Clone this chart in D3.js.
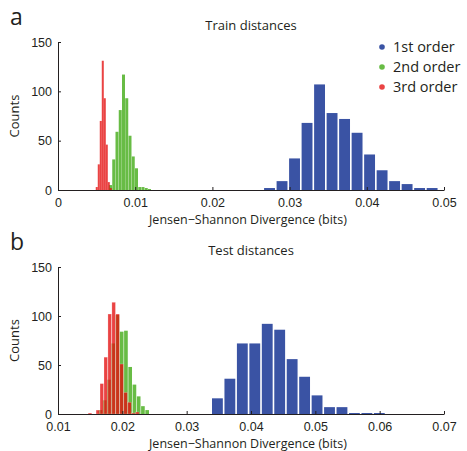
<!DOCTYPE html>
<html>
<head>
<meta charset="utf-8">
<script src="https://cdn.jsdelivr.net/npm/d3@7"></script>
<style>
  body { margin: 0; background: #fff; }
  svg { display: block; font-family: "Open Sans", "Noto Sans", sans-serif; }
  text { fill: #231f20; }
</style>
</head>
<body>
<svg id="chart" width="467" height="451"></svg>
<script>
// Histogram counts of Jensen–Shannon divergences.
// Each series: first bin centre, bin width and the per-bin counts.

// Panel a — train distances
const trainFirst = { start: 0.0274, width: 0.00162,
  counts: [2, 9, 32, 68, 107, 78, 72, 58, 36, 20, 9, 6, 2, 2] };
const trainSecond = { start: 0.0068, width: 0.000421,
  counts: [5, 31, 59, 81, 117, 93, 55, 34, 22, 3, 3, 2, 1] };
const trainThird = { start: 0.00502, width: 0.00026,
  counts: [3, 26, 70, 131, 93, 46, 8, 2] };

// Panel b — test distances
const testFirst = { start: 0.03478, width: 0.001936,
  counts: [16, 36, 72, 72, 92, 86, 56, 38, 19, 7, 7, 1, 1, 1] };
const testSecond = { start: 0.0166, width: 0.00066,
  counts: [4, 14, 35, 72, 101, 84, 85, 48, 30, 18, 8, 4] };
const testThird = { start: 0.01497, width: 0.000614,
  counts: [1, 0, 4, 31, 58, 102, 114, 102, 51, 22, 12, 1, 2] };

const trainTicksX = [0, 0.01, 0.02, 0.03, 0.04, 0.05];
const testTicksX = [0.01, 0.02, 0.03, 0.04, 0.05, 0.06, 0.07];
const countTicks = [0, 50, 100, 150];
const legendLabels = ["1st order", "2nd order", "3rd order"];

const COLORS = { first: "#3a53a4", second: "#68bc45", third: "rgb(228,14,14)" };
const FS = 12.5;

const svg = d3.select("#chart");

function toBins(s) {
  return s.counts.map((c, i) => ({ x: s.start + i * s.width, w: s.width, c }));
}

function panel(opts) {
  const { top, bottom, domain, ticks, title, letter, series } = opts;
  const x = d3.scaleLinear().domain(domain).range([58, 444]);
  const y = d3.scaleLinear().domain([0, 150]).range([bottom, top]);
  const g = svg.append("g");

  // bars
  series.forEach(s => {
    g.append("g")
      .attr("fill", s.color)
      .attr("fill-opacity", s.opacity)
      .selectAll("rect")
      .data(toBins(s.data).filter(d => d.c > 0))
      .join("rect")
      .attr("x", d => x(d.x - d.w * s.frac / 2))
      .attr("width", d => x(d.x + d.w * s.frac / 2) - x(d.x - d.w * s.frac / 2))
      .attr("y", d => y(d.c))
      .attr("height", d => y(0) - y(d.c))
      .attr("stroke", s.edge ? "#fff" : null)
      .attr("stroke-opacity", s.edge ? 0.35 : null)
      .attr("stroke-width", s.edge ? 0.6 : null);
  });

  // x axis (ticks point inward)
  const xAxis = g.append("g")
    .attr("transform", `translate(0,${bottom})`)
    .call(d3.axisBottom(x).tickValues(ticks).tickSizeInner(-3).tickSizeOuter(0)
      .tickFormat(d => d === 0 ? "0" : d3.format(".2f")(d)));
  xAxis.select(".domain").attr("stroke", "#231f20");
  xAxis.selectAll(".tick line").attr("stroke", "#231f20");
  xAxis.selectAll(".tick text").attr("y", 17).attr("dy", null).attr("font-size", FS)
    .attr("fill", "#231f20").attr("font-family", null);

  // y axis
  const yAxis = g.append("g")
    .attr("transform", `translate(58,0)`)
    .call(d3.axisLeft(y).tickValues(countTicks).tickSizeInner(-3).tickSizeOuter(0));
  yAxis.select(".domain").attr("stroke", "#231f20");
  yAxis.selectAll(".tick line").attr("stroke", "#231f20");
  yAxis.selectAll(".tick text").attr("x", -6).attr("font-size", FS)
    .attr("fill", "#231f20").attr("font-family", null);

  // labels
  g.append("text").attr("x", 251).attr("y", top - 12)
    .attr("text-anchor", "middle").attr("font-size", 13).text(title);
  g.append("text").attr("x", 248).attr("y", bottom + 34)
    .attr("text-anchor", "middle").attr("font-size", FS)
    .text("Jensen\u2212Shannon Divergence (bits)");
  g.append("text")
    .attr("transform", `translate(19,${(top + bottom) / 2}) rotate(-90)`)
    .attr("text-anchor", "middle").attr("font-size", 13).text("Counts");
  g.append("text").attr("x", 10).attr("y", top - 17)
    .attr("font-size", 23).text(letter);
}

panel({
  top: 42, bottom: 190, domain: [0, 0.05], ticks: trainTicksX,
  title: "Train distances", letter: "a",
  series: [
    { data: trainFirst, color: COLORS.first, opacity: 1, frac: 0.87 },
    { data: trainSecond, color: COLORS.second, opacity: 1, frac: 0.92 },
    { data: trainThird, color: COLORS.third, opacity: 0.78, frac: 1.0 }
  ]
});

panel({
  top: 267, bottom: 414, domain: [0.01, 0.07], ticks: testTicksX,
  title: "Test distances", letter: "b",
  series: [
    { data: testFirst, color: COLORS.first, opacity: 1, frac: 0.87 },
    { data: testSecond, color: COLORS.second, opacity: 1, frac: 0.86 },
    { data: testThird, color: COLORS.third, opacity: 0.78, frac: 0.9, edge: true }
  ]
});

// legend
const legend = svg.append("g").attr("transform", "translate(382,47)");
const legendColors = [COLORS.first, COLORS.second, COLORS.third];
legendLabels.forEach((lab, i) => {
  legend.append("circle").attr("cx", 0).attr("cy", i * 20).attr("r", 2.8)
    .attr("fill", legendColors[i]).attr("fill-opacity", i === 2 ? 0.78 : 1);
  legend.append("text").attr("x", 11).attr("y", i * 20 + 5)
    .attr("font-size", 14.5).text(lab);
});
</script>
</body>
</html>
